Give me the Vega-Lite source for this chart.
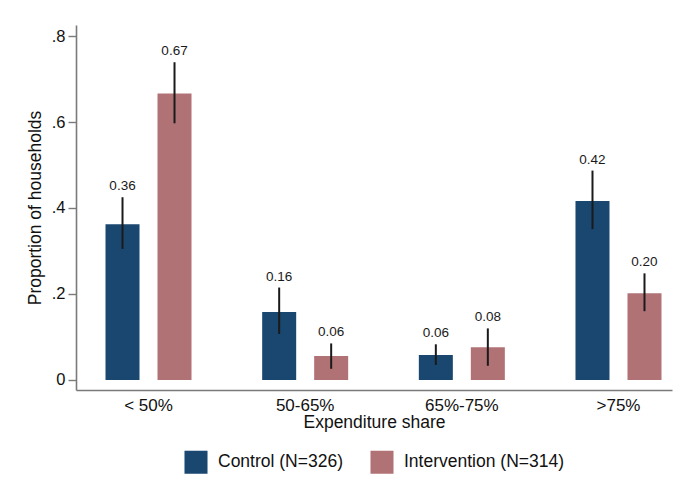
{
  "$schema": "https://vega.github.io/schema/vega-lite/v6.json",
  "width": 596,
  "height": 365,
  "autosize": {"type": "none"},
  "padding": {"left": 76, "top": 25, "right": 4, "bottom": 99},
  "background": "white",
  "config": {
    "view": {"stroke": null},
    "font": "Liberation Sans",
    "axis": {"labelFont": "Liberation Sans", "titleFont": "Liberation Sans", "labelColor": "#111111", "titleColor": "#111111", "titleFontWeight": "normal", "grid": false, "domainColor": "#7a7a7a", "tickColor": "#7a7a7a", "domainWidth": 1.6, "tickWidth": 1.4}
  },
  "data": {
    "values": [
      {"share": "< 50%", "arm": "Control (N=326)", "value": 0.362, "lo": 0.305, "hi": 0.425},
      {"share": "< 50%", "arm": "Intervention (N=314)", "value": 0.666, "lo": 0.597, "hi": 0.739},
      {"share": "50-65%", "arm": "Control (N=326)", "value": 0.158, "lo": 0.107, "hi": 0.215},
      {"share": "50-65%", "arm": "Intervention (N=314)", "value": 0.056, "lo": 0.026, "hi": 0.085},
      {"share": "65%-75%", "arm": "Control (N=326)", "value": 0.058, "lo": 0.035, "hi": 0.083},
      {"share": "65%-75%", "arm": "Intervention (N=314)", "value": 0.076, "lo": 0.033, "hi": 0.120},
      {"share": ">75%", "arm": "Control (N=326)", "value": 0.416, "lo": 0.351, "hi": 0.487},
      {"share": ">75%", "arm": "Intervention (N=314)", "value": 0.202, "lo": 0.160, "hi": 0.248}
    ]
  },
  "encoding": {
    "x": {
      "field": "share",
      "type": "nominal",
      "sort": ["< 50%", "50-65%", "65%-75%", ">75%"],
      "scale": {"paddingInner": 0.451, "paddingOuter": 0.1277, "align": 0.7375},
      "axis": {"title": "Expenditure share", "labelAngle": 0, "ticks": false, "labelFontSize": 17, "titleFontSize": 17.5, "labelPadding": 7, "titlePadding": 0}
    },
    "xOffset": {
      "field": "arm",
      "type": "nominal",
      "scale": {"paddingInner": 0.346, "paddingOuter": 0}
    }
  },
  "layer": [
    {
      "mark": {"type": "bar"},
      "encoding": {
        "y": {
          "field": "value",
          "type": "quantitative",
          "scale": {"domain": [-0.0233, 0.8256], "nice": false, "zero": false},
          "axis": {
            "title": "Proportion of households",
            "values": [0, 0.2, 0.4, 0.6, 0.8],
            "labelExpr": "datum.value == 0 ? '0' : replace(format(datum.value, '.1f'), '0.', '.')",
            "labelFontSize": 16.5,
            "titleFontSize": 17.5,
            "tickSize": 8,
            "labelPadding": 3,
            "titlePadding": 7
          }
        },
        "y2": {"datum": 0},
        "color": {
          "field": "arm",
          "type": "nominal",
          "scale": {"domain": ["Control (N=326)", "Intervention (N=314)"], "range": ["#1a476f", "#b17276"]},
          "legend": {
            "orient": "none",
            "legendX": 108,
            "legendY": 425,
            "direction": "horizontal",
            "title": null,
            "symbolType": "square",
            "symbolSize": 530,
            "symbolStrokeWidth": 0,
            "symbolOpacity": 1,
            "labelFontSize": 17.5,
            "labelLimit": 400,
            "labelColor": "#111111",
            "labelOffset": 10,
            "columnPadding": 27
          }
        }
      }
    },
    {
      "mark": {"type": "rule", "color": "#1a1a1a", "strokeWidth": 2},
      "encoding": {
        "y": {"field": "lo", "type": "quantitative"},
        "y2": {"field": "hi"}
      }
    },
    {
      "mark": {"type": "text", "dy": -7, "baseline": "alphabetic", "fontSize": 13.5, "color": "#1a1a1a"},
      "encoding": {
        "y": {"field": "hi", "type": "quantitative"},
        "text": {"field": "value", "type": "quantitative", "format": ".2f"}
      }
    }
  ]
}
